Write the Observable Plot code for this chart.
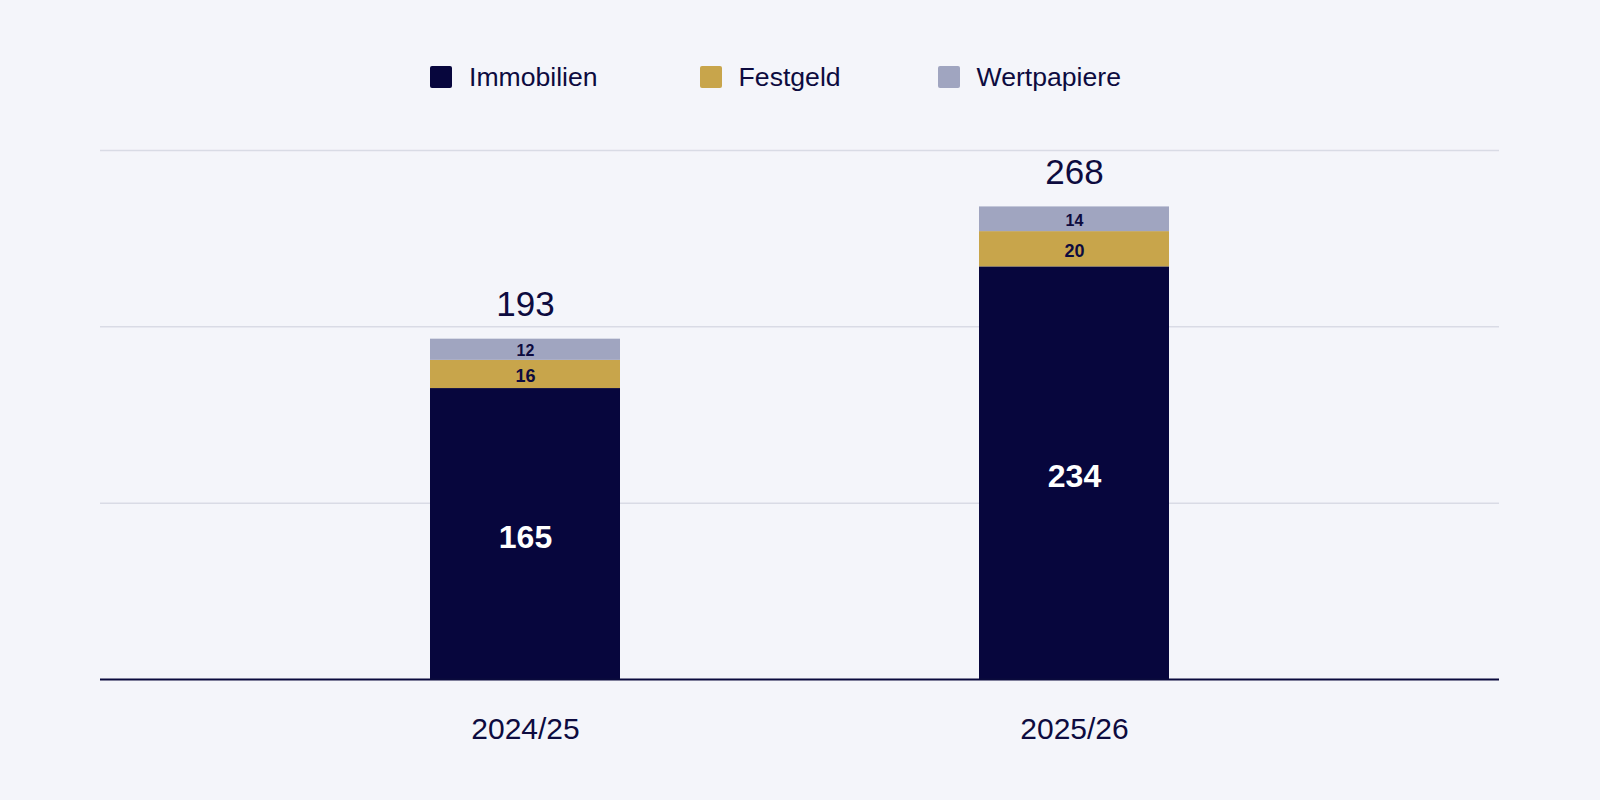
<!DOCTYPE html>
<html>
<head>
<meta charset="utf-8">
<script src="https://cdn.jsdelivr.net/npm/d3@7"></script>
<script src="https://cdn.jsdelivr.net/npm/@observablehq/plot@0.6"></script>
<style>
  html, body { margin: 0; padding: 0; background: #f4f5fa; }
  body { width: 1600px; height: 800px; overflow: hidden; font-family: "Liberation Sans", Arial, sans-serif; color: #0d0b3f; }
  #legend { height: 120px; position: relative; }
  #legend .row { position: absolute; top: 66px; left: 430px; display: flex; align-items: center; height: 22px; }
  #legend .item { display: flex; align-items: center; margin-right: 102px; }
  #legend .item:nth-child(2) { margin-right: 97px; }
  #legend .sw { width: 22px; height: 22px; border-radius: 2px; margin-right: 17px; }
  #legend .lb { font-size: 26.6px; line-height: 22px; color: #0d0b3f; white-space: nowrap; }
</style>
</head>
<body>
<div id="legend"><div class="row"></div></div>
<div id="chart"></div>
<script>
const years = ["2024/25", "2025/26"];
const series = ["Immobilien", "Festgeld", "Wertpapiere"];
const immobilien = [165, 234];
const festgeld = [16, 20];
const wertpapiere = [12, 14];
const totals = [193, 268];
const colors = ["#07063d", "#c8a54b", "#a0a5c0"];

const values = [immobilien, festgeld, wertpapiere];
const rows = [];
years.forEach((y, i) => series.forEach((s, j) => rows.push({year: y, series: s, value: values[j][i]})));
const totalRows = years.map((y, i) => ({year: y, total: totals[i]}));

// legend
const row = document.querySelector("#legend .row");
series.forEach((s, j) => {
  const it = document.createElement("div");
  it.className = "item";
  it.innerHTML = `<div class="sw" style="background:${colors[j]}"></div><div class="lb">${s}</div>`;
  row.appendChild(it);
});

const stackOpts = {x: "year", y: "value", z: "series", order: series};

const chart = Plot.plot({
  width: 1600,
  height: 680,
  marginTop: 30,
  marginBottom: 121,
  marginLeft: 100,
  marginRight: 101,
  style: {background: "transparent", fontFamily: "'Liberation Sans', Arial, sans-serif", color: "#0d0b3f", overflow: "visible"},
  x: {domain: years, paddingInner: 0.654, paddingOuter: 0.6, label: null},
  y: {domain: [0, 300], axis: null},
  color: {domain: series, range: colors},
  marks: [
    Plot.ruleY([100, 200, 300], {stroke: "#d9dbe5", strokeWidth: 1.5}),
    Plot.barY(rows, Plot.stackY({...stackOpts, fill: "series"})),
    Plot.text(rows, Plot.stackY({...stackOpts,
      text: d => d.series === "Immobilien" ? String(d.value) : "",
      fill: "white", fontWeight: "bold", fontSize: 32, lineAnchor: "middle", dy: 4})),
    Plot.text(rows, Plot.stackY({...stackOpts,
      text: d => d.series !== "Immobilien" ? String(d.value) : "",
      fill: "#0d0b3f", fontWeight: "bold", fontSize: d => d.value < 15 ? 16 : 18, lineAnchor: "middle", dy: 1.5})),
    Plot.text(totalRows, {x: "year", y: "total", text: d => String(d.total), dy: -34, fontSize: 35, fill: "#0d0b3f", lineAnchor: "middle"}),
    Plot.ruleY([0], {stroke: "#0a0a3c", strokeWidth: 2}),
    Plot.axisX({tickSize: 0, tickPadding: 38, fontSize: 30, label: null, fill: "#0d0b3f"})
  ]
});
document.getElementById("chart").appendChild(chart);
</script>
</body>
</html>
